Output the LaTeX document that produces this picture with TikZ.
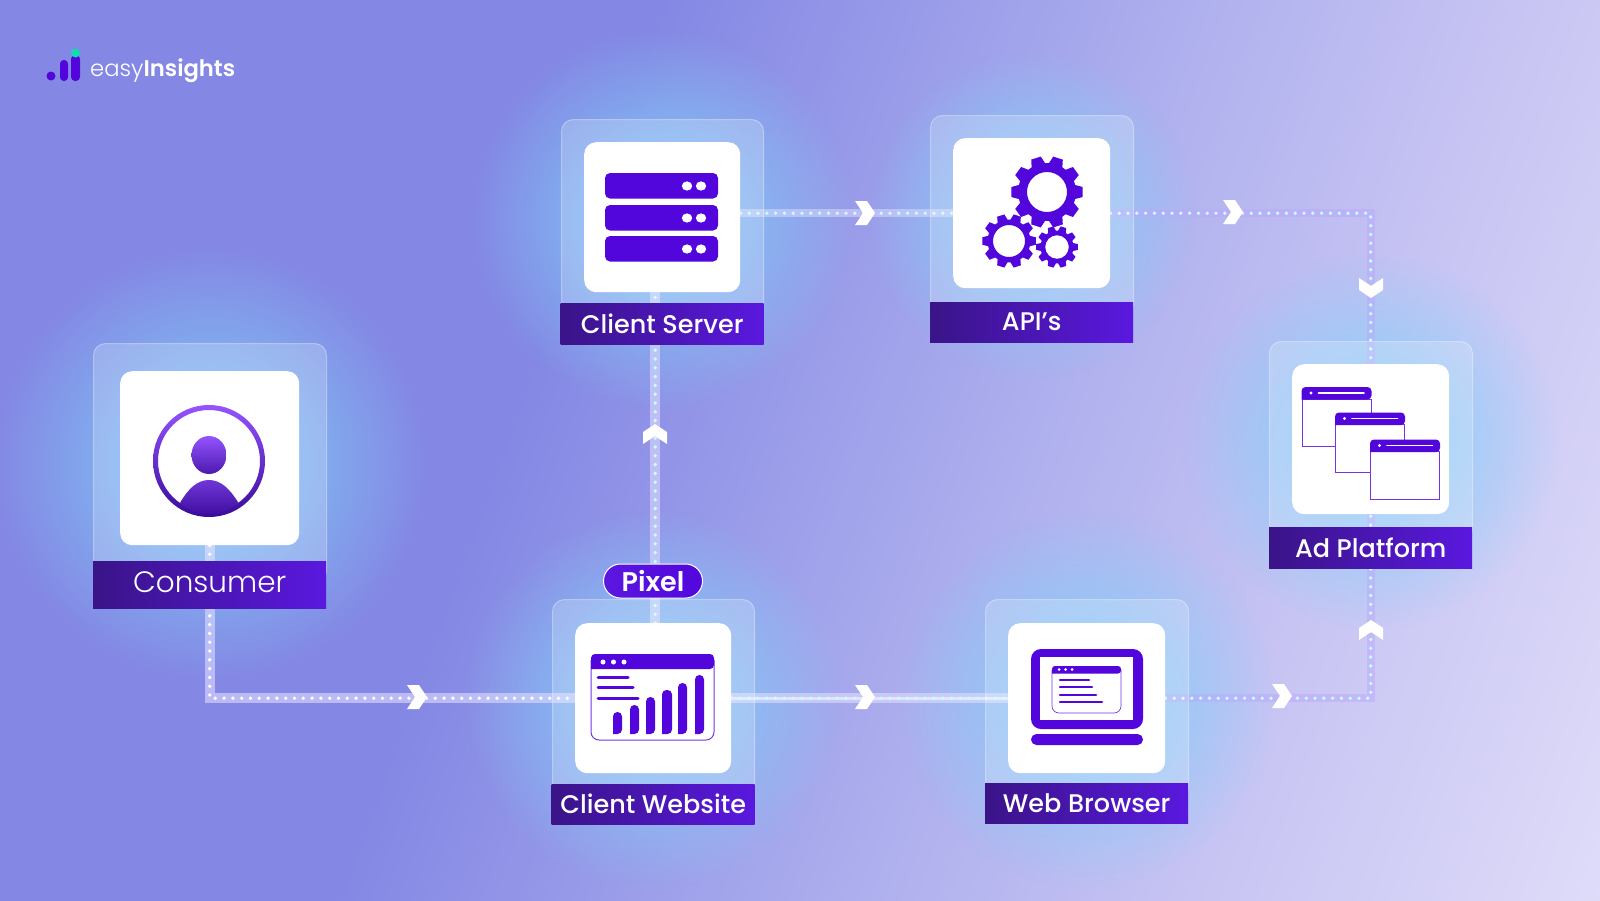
\documentclass[tikz,border=0pt]{standalone}
\usepackage{fontspec}
\setmainfont{Poppins}
\newfontfamily\plight{Poppins Light}
\newfontfamily\pmed{Poppins Medium}
\newfontfamily\psemi{Poppins SemiBold}
\usetikzlibrary{fadings,calc}
\definecolor{bgA}{HTML}{8488E4}
\definecolor{bgB}{HTML}{AFB0EE}
\definecolor{bgC}{HTML}{C6C3F3}
\definecolor{bgD}{HTML}{E4E0FA}
\definecolor{violet1}{HTML}{5206DC}
\definecolor{labL}{HTML}{3A1488}
\definecolor{labR}{HTML}{5A18DF}
\definecolor{glowc}{HTML}{80D0FA}
\definecolor{dotc}{HTML}{C4FFFF}
\definecolor{bandc}{HTML}{E0DCFF}
\definecolor{bandp}{HTML}{BCA8FC}
\definecolor{faceT}{HTML}{9454FF}
\definecolor{faceB}{HTML}{3A0A9A}
\definecolor{mint}{HTML}{10DDB0}
\definecolor{winline}{HTML}{7434E4}
\pgfdeclarehorizontalshading{bgshade}{100bp}{color(0bp)=(bgA); color(40bp)=(bgA); color(58bp)=(bgB); color(68bp)=(bgC); color(85bp)=(bgD); color(100bp)=(bgD)}
\tikzfading[name=glowf, inner color=transparent!0, outer color=transparent!100]
\pgfdeclarelayer{glow}
\pgfdeclarelayer{conn}
\pgfsetlayers{glow,conn,main}
\tikzset{
  card/.style={draw=white,draw opacity=.35,fill=white,fill opacity=.2,line width=1pt,rounded corners=12pt,anchor=north west,inner sep=0pt,text opacity=0},
  panel/.style={fill=white,rounded corners=12pt,anchor=north west,inner sep=0pt},
  lab/.style={left color=labL,right color=labR,anchor=north west,inner sep=0pt,text=white,font=\pmed\fontsize{25.5}{30}\selectfont},
  band/.style={draw=bandc,draw opacity=.6,line width=10pt,line join=miter},
  thinband/.style={draw=#1,draw opacity=.5,line width=8pt,line join=miter},
  thinband/.default=bandc,
  dots/.style={draw=#1,line width=3.8pt,line cap=round,dash pattern=on 0pt off 8.8pt},
  dots/.default=dotc,
  chevron/.pic={\fill[white] (-10,-12) -- (2,-12) -- (10,0) -- (2,12) -- (-10,12) -- (-2,0) -- cycle;},
  wline/.style={draw=winline,line width=1pt},
  tline/.style={draw=violet1,line cap=round},
}
\newcommand{\gearshape}[5]{% x y outer root hole
  \fill[violet1,even odd rule]
    \foreach \k in {0,...,9}{
      \ifnum\k=0 ({#1+#4*cos(-14)},{#2+#4*sin(-14)}) \else -- ({#1+#4*cos(36*\k-14)},{#2+#4*sin(36*\k-14)}) \fi
      -- ({#1+#3*cos(36*\k-8)},{#2+#3*sin(36*\k-8)})
      -- ({#1+#3*cos(36*\k+8)},{#2+#3*sin(36*\k+8)})
      -- ({#1+#4*cos(36*\k+14)},{#2+#4*sin(36*\k+14)})
    } -- cycle (#1,#2) circle (#5);
}
\newcommand{\chartbar}[3]{\fill[violet1,rounded corners=4.4pt] (#1,734) -- (#1,734) -- (#1,#3) -- (#2,#3) -- (#2,734) [sharp corners] -- cycle;}
\newcommand{\adwin}[2]{%
  \draw[wline,fill=white] (#1,#2+12) rectangle (#1+69,#2+59.5);
  \fill[violet1,rounded corners=4pt] (#1-.5,#2+12.5) -- (#1-.5,#2) -- (#1+69.5,#2) -- (#1+69.5,#2+12.5) [sharp corners] -- cycle;
  \fill[white] (#1+9,#2+6) circle (1.7);
  \draw[white,line width=1.8pt,line cap=round] (#1+16.5,#2+6) -- (#1+62,#2+6);
}
\begin{document}
\begin{tikzpicture}[x=1pt,y=-1pt]
\useasboundingbox (0,0) rectangle (1600,900);
% cards
\node[card,minimum width=233pt,minimum height=240pt] (cardC) at (93,343) {};
\node[card,minimum width=202pt,minimum height=200pt] (cardS) at (561,119) {};
\node[card,minimum width=203pt,minimum height=200pt] (cardA) at (930,115) {};
\node[card,minimum width=202pt,minimum height=200pt] (cardW) at (552,599) {};
\node[card,minimum width=203pt,minimum height=200pt] (cardB) at (985,599) {};
\node[card,minimum width=203pt,minimum height=200pt] (cardP) at (1269,341) {};
% white panels
\node[panel,minimum width=179pt,minimum height=174pt] (consumer) at (120,371) {};
\node[panel,minimum width=156pt,minimum height=150pt] (server) at (584,142) {};
\node[panel,minimum width=157pt,minimum height=150pt] (api) at (953,138) {};
\node[panel,minimum width=156pt,minimum height=150pt] (website) at (575,623) {};
\node[panel,minimum width=157pt,minimum height=150pt] (browser) at (1008,623) {};
\node[panel,minimum width=157pt,minimum height=150pt] (adplat) at (1292,364) {};
% labels
\node[lab,minimum width=233pt,minimum height=47pt,text depth=5pt,font=\plight\fontsize{29.5}{36}\selectfont] (labC) at (93,561) {Consumer};
\node[lab,minimum width=203pt,minimum height=41pt] (labS) at (560.5,303) {Client Server};
\node[lab,minimum width=203pt,minimum height=40pt] (labA) at (930,302) {API’s};
\node[lab,minimum width=203pt,minimum height=40pt] (labW) at (551.5,784) {Client Website};
\node[lab,minimum width=203pt,minimum height=40pt] (labB) at (985,783) {Web Browser};
\node[lab,minimum width=203pt,minimum height=41pt] (labP) at (1269,527) {Ad Platform};
\node[left color=labR,right color=violet1,draw=white,line width=1pt,rounded corners=17pt,minimum width=99pt,minimum height=34pt,inner sep=0pt,text=white,font=\psemi\fontsize{27}{30}\selectfont] (pixel) at (653,581) {Pixel};
% background and glows
\begin{pgfonlayer}{glow}
\shade[shading=bgshade,shading angle=-20] (0,0) rectangle (1600,900);
\fill[glowc,path fading=glowf] (cardC.center) circle (215);
\fill[glowc,path fading=glowf] (cardS.center) circle (190);
\fill[glowc,path fading=glowf] (cardA.center) circle (165);
\fill[glowc,path fading=glowf] (cardW.center) circle (190);
\fill[glowc,path fading=glowf] (cardB.center) circle (190);
\fill[glowc,path fading=glowf] (cardP.center) circle (190);
\end{pgfonlayer}
% connectors
\begin{pgfonlayer}{conn}
\coordinate (w2) at ([xshift=2pt]website.north);
\coordinate (s1) at (server.east |- api.west);
\draw[band] (consumer.south) |- (website.west);
\draw[dots=white] (consumer.south) |- (website.west);
\draw[band] (website.east) -- (browser.west);
\draw[draw=white,draw opacity=.5,line width=3pt] (website.east) -- (browser.west);
\draw[dots] (website.east) -- (browser.west);
\draw[thinband=bandp] (browser.east) -| (adplat.south);
\draw[dots] (browser.east) -| (adplat.south);
\draw[band] (w2) -- (w2 |- server.south);
\draw[dots] (w2) -- (w2 |- server.south);
\draw[thinband] (s1) -- (api.west);
\draw[dots] (s1) -- (api.west);
\draw[thinband=bandp] (api.east) -| (adplat.north);
\draw[dots] (api.east) -| (adplat.north);
\end{pgfonlayer}
% chevrons
\pic at (417,697) {chevron};
\pic at (865,697) {chevron};
\pic at (1282,696) {chevron};
\pic[rotate=90] at (1371,630) {chevron};
\pic[rotate=90] at (655,434) {chevron};
\pic at (865,213) {chevron};
\pic at (1233,212) {chevron};
\pic[rotate=-90] at (1371,288) {chevron};
% server icon
\foreach \y in {173,205,236}{
  \fill[violet1,rounded corners=5pt] (605,\y) rectangle (718,\y+25.5);
  \fill[white] (687,\y+13) ellipse (5.2 and 4.6);
  \fill[white] (701,\y+13) ellipse (5.2 and 4.6);
}
% gears
\gearshape{1047}{192}{36}{29}{20}
\gearshape{1009}{241}{27}{21.5}{16}
\gearshape{1057}{247}{21}{16.5}{11.8}
% consumer icon
\shade[top color=faceT,bottom color=faceB,even odd rule] (209,461) circle (56) (209,461) circle (51);
\shade[top color=faceT,bottom color=faceB!80!faceT] (209,455) ellipse (17.5 and 19);
\shade[top color=faceT!60!faceB,bottom color=faceB] (238.5,503) .. controls (230,489) and (221,480) .. (209,480) .. controls (197,480) and (188,489) .. (180,503) .. controls (198,518) and (220,518) .. cycle;
% website icon
\draw[wline,rounded corners=8pt] (591,660) -- (591,740) -- (714,740) -- (714,660);
\fill[violet1,rounded corners=4pt] (591,669) -- (591,654) -- (714,654) -- (714,669) [sharp corners] -- cycle;
\foreach \x in {603,613.5,624}{\fill[white] (\x,662) circle (2.5);}
\draw[tline,line width=3pt] (598,677) -- (628,677);
\draw[tline,line width=3pt] (598,687) -- (633,687);
\draw[tline,line width=3pt] (598,698) -- (638,698);
\chartbar{613}{622}{712}
\chartbar{630}{639}{705}
\chartbar{646}{655}{697}
\chartbar{662}{672}{690}
\chartbar{678}{687}{683}
\chartbar{695}{704}{675}
% browser icon
\fill[violet1,rounded corners=10pt] (1031,649) rectangle (1143,729);
\fill[white] (1040,657) rectangle (1133,720);
\fill[violet1,rounded corners=5.5pt] (1031,734) rectangle (1143,745);
\draw[wline,line width=.7pt,rounded corners=7pt] (1052,670) -- (1052,713) -- (1121,713) -- (1121,670);
\fill[violet1,rounded corners=3pt] (1052,673.5) -- (1052,666) -- (1121,666) -- (1121,673.5) [sharp corners] -- cycle;
\foreach \x in {1059,1065.5,1072}{\fill[white] (\x,669.5) circle (1.5);}
\draw[tline,line width=2.5pt] (1060,680) -- (1089,680);
\draw[tline,line width=2.5pt] (1060,687) -- (1092,687);
\draw[tline,line width=2.5pt] (1060,695) -- (1096,695);
\draw[tline,line width=2.5pt] (1060,702) -- (1102,702);
% ad platform icon
\adwin{1302}{387}
\adwin{1335.5}{412.5}
\adwin{1370.5}{439.5}
% logo
\fill[violet1] (51,76) circle (4.5);
\fill[violet1,rounded corners=3.8pt] (60,60) rectangle (68,81);
\fill[violet1,rounded corners=4pt] (71,55) rectangle (80,81);
\fill[mint] (75.5,53) circle (4.5);
\node[anchor=base west,inner sep=0pt,text=white,font=\fontsize{22.7}{30}\selectfont] (logo) at (90,76) {{\plight easy}{\psemi Insights}};
\end{tikzpicture}
\end{document}
